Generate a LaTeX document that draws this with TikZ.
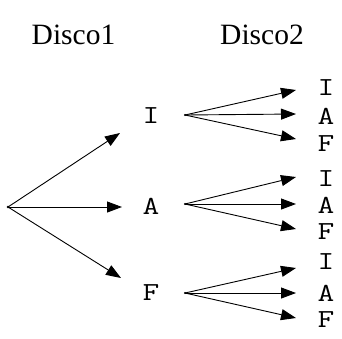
\documentclass[tikz,border=0pt]{standalone}
\usepackage{fontspec}
\usepackage{graphicx}
\setmainfont{Liberation Serif}
\usetikzlibrary{arrows.meta}
\newcommand{\wideL}[1]{\scalebox{1.25}[1]{#1}}
\begin{document}
\begin{tikzpicture}[x=1pt,y=-1pt,
  title/.style={inner sep=0pt,font=\fontsize{29.5}{31}\selectfont},
  letter/.style={inner sep=0pt,font=\ttfamily\fontsize{26}{28}\selectfont},
  arr/.style={-{Triangle[length=15pt,width=11pt]},line width=0.9pt}]
\useasboundingbox (0,0) rectangle (342,338);
\node[title] (d1) at (73.5,35) {Disco1};
\node[title] (d2) at (262,35) {Disco2};
% middle letters
\node[letter] (mI) at (151,116) {\wideL{I}};
\node[letter] (mA) at (151,206) {\wideL{A}};
\node[letter] (mF) at (151,293) {\wideL{F}};
% right letters
\node[letter] (rII) at (326,88) {\wideL{I}};
\node[letter] (rIA) at (326,116) {\wideL{A}};
\node[letter] (rIF) at (326,144) {\wideL{F}};
\node[letter] (rAI) at (326,179) {\wideL{I}};
\node[letter] (rAA) at (326,205) {\wideL{A}};
\node[letter] (rAF) at (326,232) {\wideL{F}};
\node[letter] (rFI) at (326,262) {\wideL{I}};
\node[letter] (rFA) at (326,293) {\wideL{A}};
\node[letter] (rFF) at (326,320) {\wideL{F}};
% connector points
\coordinate (root) at (8,207);
\fill (root) circle (1.4pt);
\coordinate (tI) at (120,133);
\coordinate (tA) at (122,207);
\coordinate (tF) at (121,278);
\coordinate (sI) at (185,115);
\coordinate (sA) at (185,204);
\coordinate (sF) at (185,293);
\coordinate (eII) at (296,90);
\coordinate (eIA) at (296,114);
\coordinate (eIF) at (296,139);
\coordinate (eAI) at (296,177);
\coordinate (eAA) at (296,204);
\coordinate (eAF) at (296,229);
\coordinate (eFI) at (296,268);
\coordinate (eFA) at (296,293);
\coordinate (eFF) at (296,318);
\draw[arr] (root) -- (tI);
\draw[arr] (root) -- (tA);
\draw[arr] (root) -- (tF);
\foreach \s in {I,A,F}{
  \fill (s\s) circle (1.2pt);
  \foreach \t in {I,A,F}{
    \draw[arr] (s\s) -- (e\s\t);
  }
}
\end{tikzpicture}
\end{document}
